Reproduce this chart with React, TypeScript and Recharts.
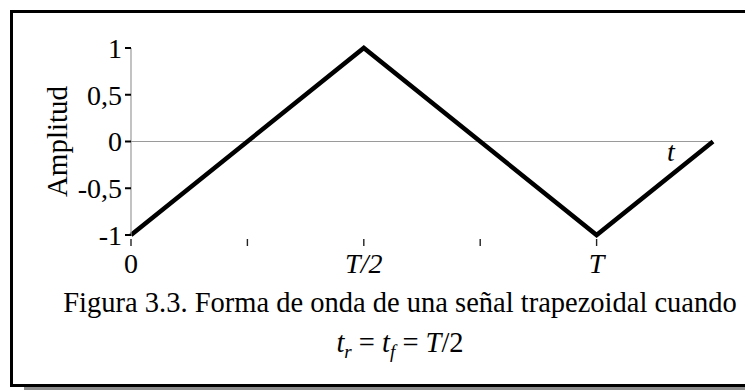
import React from 'react';
import { LineChart, Line, XAxis, YAxis, ReferenceLine, Label } from 'recharts';

const timeValues = [0, 0.5, 1, 1.25];
const amplitudeValues = [-1, 1, -1, 0];
const xTicks = [0, 0.25, 0.5, 0.75, 1];
const xTickLabels = ['0', '', 'T/2', '', 'T'];
const yTicks = [-1, -0.5, 0, 0.5, 1];
const yTickLabels = ['-1', '-0,5', '0', '0,5', '1'];
const yAxisTitle = 'Amplitud';
const xAxisTitle = 't';
const captionLine1 = 'Figura 3.3. Forma de onda de una señal trapezoidal cuando';

const data = timeValues.map((t, i) => ({ t, a: amplitudeValues[i] }));
const FONT = '"Liberation Serif", "Times New Roman", Times, serif';

const XTick = (props: any) => {
  const { x, y, payload } = props;
  const idx = xTicks.indexOf(payload.value);
  const label = idx >= 0 ? xTickLabels[idx] : '';
  return (
    <g>
      <line x1={x} x2={x} y1={y + 4} y2={y + 11} stroke="#222" strokeWidth={1.4} />
      {label ? (
        <text
          x={x}
          y={y + 38}
          textAnchor="middle"
          fontFamily={FONT}
          fontSize={28}
          fontStyle={label === '0' ? 'normal' : 'italic'}
          fill="#000"
        >
          {label}
        </text>
      ) : null}
    </g>
  );
};

const YTick = (props: any) => {
  const { x, y, payload } = props;
  const idx = yTicks.indexOf(payload.value);
  const label = idx >= 0 ? yTickLabels[idx] : String(payload.value);
  return (
    <g>
      <rect x={x + 3} y={y - 1} width={6} height={2} fill="#000" />
      <text
        x={x}
        y={y}
        dy="0.35em"
        textAnchor="end"
        fontFamily={FONT}
        fontSize={28}
        fill="#000"
      >
        {label}
      </text>
    </g>
  );
};

const YTitle = (props: any) => {
  const vb = props.viewBox || {};
  const cx = vb.x + 57;
  const cy = vb.y + vb.height / 2;
  return (
    <text
      x={cx}
      y={cy}
      transform={`rotate(-90, ${cx}, ${cy})`}
      textAnchor="middle"
      dominantBaseline="central"
      fontFamily={FONT}
      fontSize={29}
      fill="#000"
    >
      {yAxisTitle}
    </text>
  );
};

const TLabel = (props: any) => {
  const vb = props.viewBox || {};
  return (
    <text
      x={vb.x + vb.width - 42}
      y={vb.y + 19}
      textAnchor="middle"
      fontFamily={FONT}
      fontSize={28}
      fontStyle="italic"
      fill="#000"
    >
      {xAxisTitle}
    </text>
  );
};

export default function App() {
  return (
    <div style={{ position: 'absolute', left: 0, top: 0, width: 745, height: 390, overflow: 'hidden', background: '#fff' }}>
      <div
        style={{
          position: 'absolute',
          left: 10,
          top: 10,
          width: 800,
          height: 371,
          borderLeft: '3px solid #000',
          borderTop: '3px solid #000',
          borderBottom: '3px solid #000',
        }}
      />
      <div style={{ position: 'absolute', left: 24, top: 387, width: 721, height: 3, background: '#8c8c8c' }} />
      <div style={{ position: 'absolute', left: 0, top: 0 }}>
        <LineChart width={745} height={300} data={data} margin={{ top: 48, right: 32, bottom: 15, left: 0 }}>
          <XAxis
            dataKey="t"
            type="number"
            domain={[0, 1.25]}
            ticks={xTicks}
            axisLine={false}
            tickLine={false}
            tickSize={0}
            tickMargin={0}
            height={50}
            tick={<XTick />}
            interval={0}
          />
          <YAxis
            type="number"
            domain={[-1, 1]}
            ticks={yTicks}
            width={131}
            interval={0}
            axisLine={{ stroke: '#9a9a9a', strokeWidth: 1.2 }}
            tickLine={false}
            tickSize={6}
            tickMargin={3}
            tick={<YTick />}
          >
            <Label content={<YTitle />} />
          </YAxis>
          <ReferenceLine y={0} stroke="#9a9a9a" strokeWidth={1.2} label={<TLabel />} />
          <Line
            type="linear"
            dataKey="a"
            stroke="#000"
            strokeWidth={4.5}
            dot={false}
            activeDot={false}
            isAnimationActive={false}
          />
        </LineChart>
      </div>
      <svg width={745} height={390} style={{ position: 'absolute', left: 0, top: 0, pointerEvents: 'none' }}>
        <text x={400} y={312} textAnchor="middle" fontFamily={FONT} fontSize={28.5} fill="#000">
          {captionLine1}
        </text>
        <text x={400} y={352} textAnchor="middle" fontFamily={FONT} fontSize={28.5} fill="#000">
          <tspan fontStyle="italic">t</tspan>
          <tspan fontStyle="italic" fontSize={19} dy={6}>r</tspan>
          <tspan dy={-6}>{' = '}</tspan>
          <tspan fontStyle="italic">t</tspan>
          <tspan fontStyle="italic" fontSize={19} dy={6}>f</tspan>
          <tspan dy={-6}>{' = '}</tspan>
          <tspan fontStyle="italic">T</tspan>
          <tspan>/2</tspan>
        </text>
      </svg>
    </div>
  );
}
